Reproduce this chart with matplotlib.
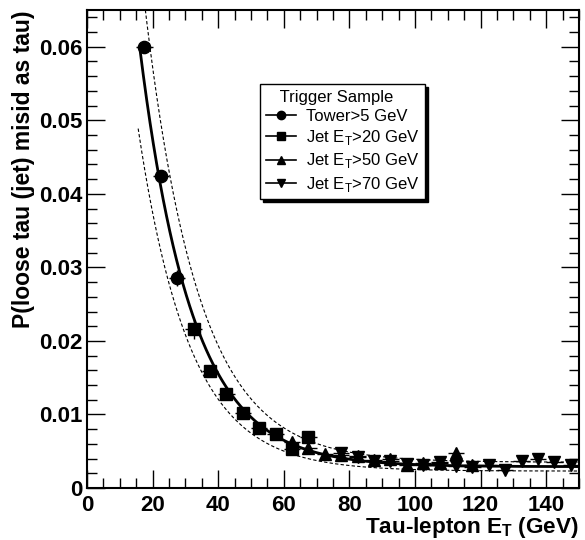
import numpy as np
import matplotlib
matplotlib.use("Agg")
import matplotlib.pyplot as plt
from matplotlib.lines import Line2D
from matplotlib.ticker import MultipleLocator, FuncFormatter

plt.rcParams['font.family'] = ['Liberation Sans', 'DejaVu Sans']

# ---- data (bin centres, misid probability) ----
x_tower = [17.5, 22.5, 27.5]
y_tower = [0.0600, 0.0424, 0.0286]
e_tower = [0.0004, 0.0008, 0.0011]

x_jet20 = [32.5, 37.5, 42.5, 47.5, 52.5, 57.5, 62.5, 67.5]
y_jet20 = [0.0216, 0.0159, 0.0128, 0.0102, 0.0081, 0.0073, 0.0053, 0.0069]
e_jet20 = [0.0013, 0.0006, 0.0005, 0.0004, 0.0004, 0.0004, 0.0004, 0.0008]

x_jet50 = [62.5, 67.5, 72.5, 77.5, 82.5, 87.5, 92.5, 97.5, 102.5, 107.5, 112.5, 117.5]
y_jet50 = [0.0063, 0.0055, 0.0046, 0.0045, 0.0044, 0.0038, 0.0039, 0.0031, 0.0034,
           0.0034, 0.0047, 0.0031]
e_jet50 = [0.0005, 0.0005, 0.0004, 0.0004, 0.0005, 0.0004, 0.0004, 0.0004, 0.0006,
           0.0005, 0.0008, 0.0004]

x_jet70 = [77.5, 82.5, 87.5, 92.5, 97.5, 102.5, 107.5, 112.5, 117.5, 122.5, 127.5,
           132.5, 137.5, 142.5, 147.5]
y_jet70 = [0.0048, 0.0042, 0.0037, 0.0037, 0.0032, 0.0031, 0.0036, 0.0030, 0.0029,
           0.0031, 0.0024, 0.0037, 0.0039, 0.0036, 0.0031]
e_jet70 = [0.0004, 0.0004, 0.0003, 0.0003, 0.0003, 0.0005, 0.0003, 0.0003, 0.0003,
           0.0003, 0.0004, 0.0003, 0.0003, 0.0003, 0.0004]

# fit y = c + a*exp(-b*x) : central, upper and lower bands
fit_mid = (0.157, 0.063, 0.0029)
fit_up = (0.182, 0.061, 0.0035)
fit_lo = (0.1264, 0.064, 0.0023)

samples = [
    ("Tower>5 GeV", x_tower, y_tower, e_tower, "o", 8.8),
    (r"Jet E$_\mathregular{T}$>20 GeV", x_jet20, y_jet20, e_jet20, "s", 8.0),
    (r"Jet E$_\mathregular{T}$>50 GeV", x_jet50, y_jet50, e_jet50, "^", 9.0),
    (r"Jet E$_\mathregular{T}$>70 GeV", x_jet70, y_jet70, e_jet70, "v", 9.0),
]

fig = plt.figure(figsize=(5.85, 5.4), dpi=100)
ax = fig.add_axes([87 / 585, 52 / 540, 492 / 585, 478 / 540])

for (a, b, c), ls, lw, x0 in [(fit_mid, '-', 2.0, 16.2),
                              (fit_up, (0, (3, 2)), 0.8, 15.6),
                              (fit_lo, (0, (3, 2)), 0.8, 15.6)]:
    xf = np.linspace(x0, 150, 400)
    ax.plot(xf, c + a * np.exp(-b * xf), color='black', ls=ls, lw=lw, zorder=2)

handles = []
for label, xs, ys, es, mk, ms in samples:
    ax.errorbar(xs, ys, xerr=2.5, yerr=es, fmt=mk, ms=ms, color='black',
                ecolor='black', elinewidth=1.0, capsize=0, zorder=3)
    handles.append(Line2D([], [], color='black', lw=1.2, marker=mk, ms=6, label=label))

ax.set_xlim(0, 150)
ax.set_ylim(0, 0.065)
ax.xaxis.set_major_locator(MultipleLocator(20))
ax.xaxis.set_minor_locator(MultipleLocator(5))
ax.yaxis.set_major_locator(MultipleLocator(0.01))
ax.yaxis.set_minor_locator(MultipleLocator(0.002))
ax.yaxis.set_major_formatter(FuncFormatter(
    lambda v, p: "0" if abs(v) < 1e-9 else "%.2f" % v))
ax.tick_params(which='both', direction='in', top=True, right=True, width=1.0,
               labelsize=16)
ax.tick_params(which='major', length=13)
ax.tick_params(which='minor', length=7)
for lab in ax.get_xticklabels() + ax.get_yticklabels():
    lab.set_fontweight('bold')
ax.tick_params(axis='x', pad=5)
ax.tick_params(axis='y', pad=3)
for s in ax.spines.values():
    s.set_linewidth(1.5)

ax.set_xlabel(r"Tau-lepton E$_\mathregular{T}$ (GeV)", fontsize=16.2,
              fontweight='bold', ha='right', va='top')
ax.xaxis.set_label_coords(1.0, -0.057)
ax.set_ylabel("P(loose tau (jet) misid as tau)", fontsize=16.5,
              fontweight='bold', ha='right', va='top')
ax.yaxis.set_label_coords(-0.152, 1.0)

leg = ax.legend(handles=handles, title="   Trigger Sample", loc='upper left',
                bbox_to_anchor=(0.3516, 0.845), borderaxespad=0, fontsize=12,
                title_fontsize=12, handlelength=1.8, handletextpad=0.6,
                labelspacing=0.25, borderpad=0.35, fancybox=False,
                edgecolor='black', framealpha=1,
                shadow={'color': 'black', 'alpha': 1})
leg._legend_box.align = "left"
leg.get_frame().set_linewidth(1.0)

fig.savefig("out.png", dpi=100)
